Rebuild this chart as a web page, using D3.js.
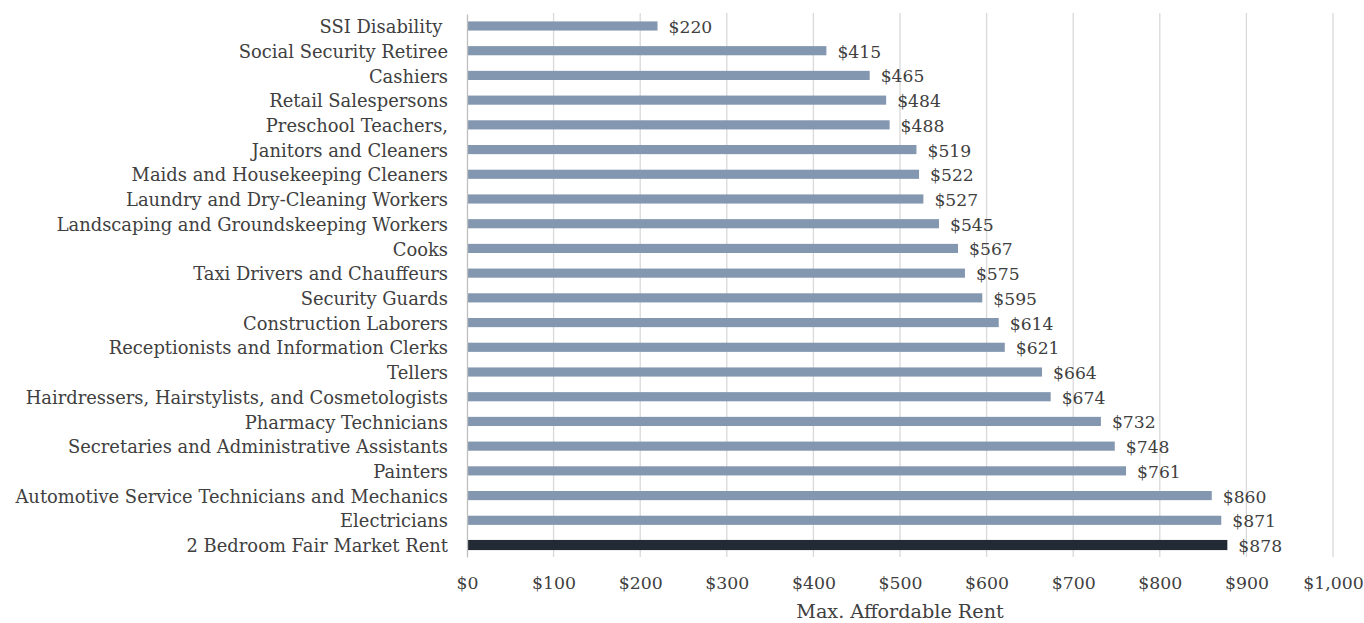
<!DOCTYPE html>
<html>
<head>
<meta charset="utf-8">
<script src="https://cdn.jsdelivr.net/npm/d3@7"></script>
<style>
  body { margin: 0; background: #fff; }
  svg text { font-family: 'DejaVu Serif', serif; fill: #404040; white-space: pre; }
</style>
</head>
<body>
<svg id="chart" width="1364" height="623"></svg>
<script>
const categories = [
  'SSI Disability ', 'Social Security Retiree', 'Cashiers', 'Retail Salespersons',
  'Preschool Teachers,', 'Janitors and Cleaners', 'Maids and Housekeeping Cleaners',
  'Laundry and Dry-Cleaning Workers', 'Landscaping and Groundskeeping Workers', 'Cooks',
  'Taxi Drivers and Chauffeurs', 'Security Guards', 'Construction Laborers',
  'Receptionists and Information Clerks', 'Tellers',
  'Hairdressers, Hairstylists, and Cosmetologists', 'Pharmacy Technicians',
  'Secretaries and Administrative Assistants', 'Painters',
  'Automotive Service Technicians and Mechanics', 'Electricians', '2 Bedroom Fair Market Rent'
]
const rents = [220, 415, 465, 484, 488, 519, 522, 527, 545, 567, 575, 595, 614, 621, 664, 674, 732, 748, 761, 860, 871, 878]
const xTicks = [0, 100, 200, 300, 400, 500, 600, 700, 800, 900, 1000]
const highlight = '2 Bedroom Fair Market Rent'

let svg = d3.select('#chart')
let margin = {top: 14, right: 31, bottom: 66, left: 467}
let width = 1364 - margin.left - margin.right
let height = 623 - margin.top - margin.bottom

let x = d3.scaleLinear().domain([0, 1000]).range([0, width])
let y = d3.scaleBand().domain(categories).range([0, height]).paddingInner(0.63).paddingOuter(0.3)

let g = svg.append('g').attr('transform', 'translate(' + margin.left + ',' + margin.top + ')')

// gridlines
g.append('g')
  .selectAll('line')
  .data(xTicks.slice(1))
  .join('line')
    .attr('x1', (d) => x(d)).attr('x2', (d) => x(d))
    .attr('y1', -1).attr('y2', height)
    .attr('stroke', '#d9d9d9').attr('stroke-width', 1.3)

// bars
let data = categories.map((c, i) => ({c: c, v: rents[i]}))
g.append('g')
  .selectAll('rect')
  .data(data)
  .join('rect')
    .attr('x', 0)
    .attr('y', (d) => y(d.c) - (d.c === highlight ? 0.5 : 0))
    .attr('width', (d) => x(d.v))
    .attr('height', (d) => y.bandwidth() + (d.c === highlight ? 1 : 0))
    .attr('fill', (d) => d.c === highlight ? '#222a35' : '#8497b0')

// value labels
g.append('g')
  .selectAll('text')
  .data(data)
  .join('text')
    .attr('x', (d) => x(d.v) + 11)
    .attr('y', (d) => y(d.c) + y.bandwidth() / 2 + 1)
    .attr('dy', '0.35em')
    .attr('font-size', 17.2)
    .text((d) => '$' + d3.format(',')(d.v))

// y axis
let yAxis = g.append('g').call(d3.axisLeft(y).tickSize(0).tickPadding(19))
yAxis.select('.domain').attr('stroke', '#bfbfbf').attr('stroke-width', 1.3)
yAxis.selectAll('text').attr('font-size', 17.9).attr('fill', '#484848')
  .attr('dy', '0.4em')
  .style('font-family', "'DejaVu Serif', serif")

// x axis
let xAxis = g.append('g')
  .attr('transform', 'translate(0,' + height + ')')
  .call(d3.axisBottom(x).tickValues(xTicks).tickSize(0).tickPadding(20)
    .tickFormat((d) => '$' + d3.format(',')(d)))
xAxis.select('.domain').remove()
xAxis.selectAll('text').attr('font-size', 17.3).attr('fill', '#595959')
  .style('font-family', "'DejaVu Serif', serif")

// axis title
svg.append('text')
  .attr('x', margin.left + width / 2)
  .attr('y', 618)
  .attr('text-anchor', 'middle')
  .attr('font-size', 19.2)
  .attr('fill', '#595959')
  .text('Max. Affordable Rent')
</script>
</body>
</html>
